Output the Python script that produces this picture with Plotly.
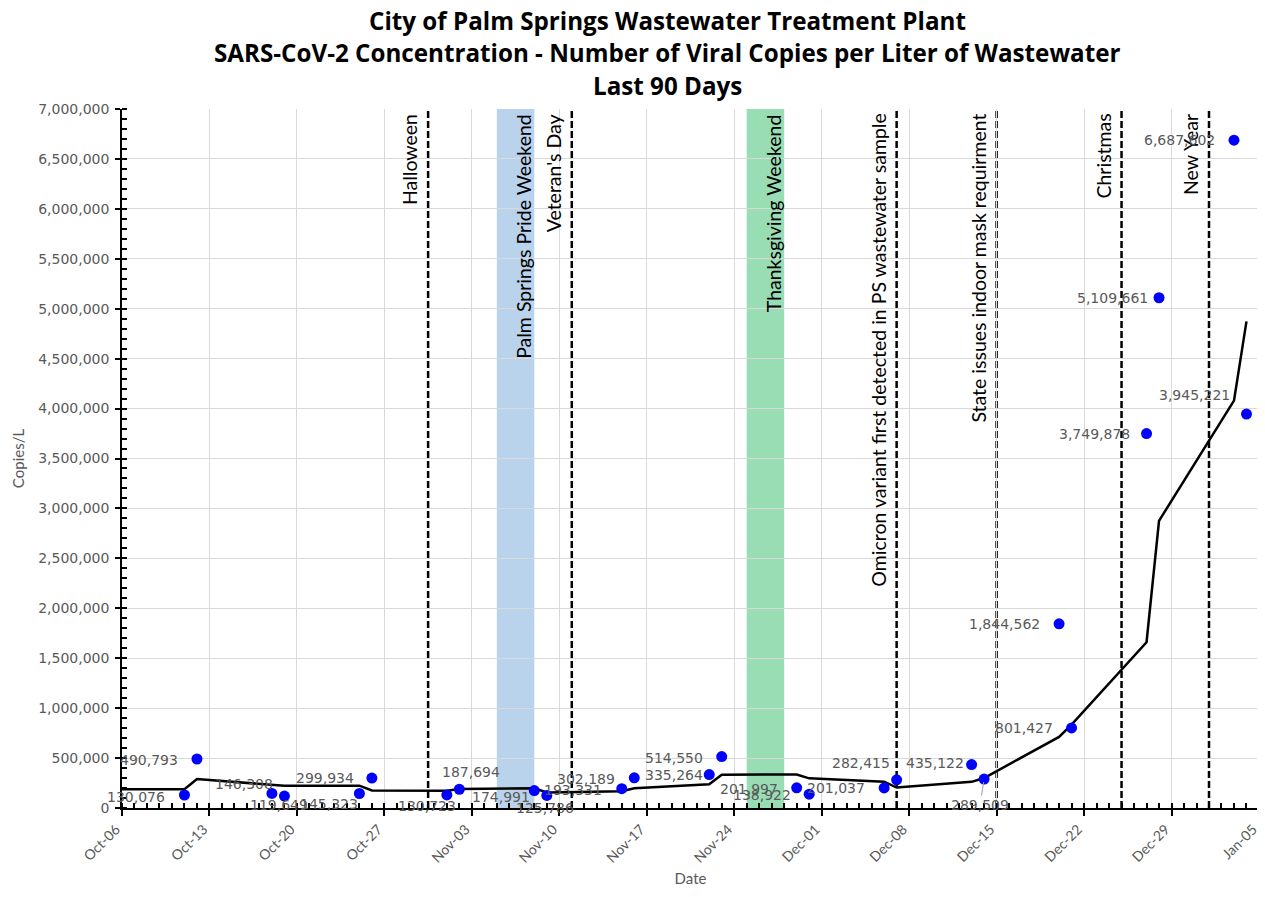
import plotly.graph_objects as go

# ---------------- data ----------------
dates = ["2021-10-11", "2021-10-12", "2021-10-18", "2021-10-19", "2021-10-25", "2021-10-26",
         "2021-11-01", "2021-11-02", "2021-11-08", "2021-11-09", "2021-11-15", "2021-11-16",
         "2021-11-22", "2021-11-23", "2021-11-29", "2021-11-30", "2021-12-06", "2021-12-07",
         "2021-12-13", "2021-12-14", "2021-12-20", "2021-12-21", "2021-12-27", "2021-12-28",
         "2022-01-03", "2022-01-04"]
copies = [130076, 490793, 146308, 119649, 145323, 299934,
          130723, 187694, 174991, 125786, 193331, 302189,
          335264, 514550, 201997, 138922, 201037, 282415,
          435122, 289509, 1844562, 801427, 3749878, 5109661,
          6687602, 3945221]

trend_dates = ["2021-10-05"] + dates
trend_values = [187000, 187000, 290000, 232000, 222000, 224000, 175000,
                172000, 190000, 198000, 155000, 168000, 197000,
                237000, 334000, 336000, 297000, 264000, 205000,
                262000, 300000, 712000, 835000, 1660000, 2876000,
                4080000, 4873000]

event_names = ["Halloween", "Veteran's Day",
               "Omicron variant first detected in PS wastewater sample",
               "State issues indoor mask requirment", "Christmas", "New Year"]
event_dates = ["2021-10-30 12:00", "2021-11-11", "2021-12-07", "2021-12-15",
               "2021-12-25", "2022-01-01"]

band_names = ["Palm Springs Pride Weekend", "Thanksgiving Weekend"]
band_starts = ["2021-11-05", "2021-11-25"]
band_ends = ["2021-11-08", "2021-11-28"]
band_colors = ["#b9d3ec", "#99ddb5"]

title_lines = ["City of Palm Springs Wastewater Treatment Plant",
               "SARS-CoV-2 Concentration - Number of Viral Copies per Liter of Wastewater",
               "Last 90 Days"]

# label placement (xanchor, xshift px, yshift px) for each point
label_pos = [("right", -17, -2), ("right", -17, -1), ("right", 3, 9), ("center", -5, -9),
             ("right", 1, -11), ("right", -16, 0), ("center", -20, -11), ("center", 12, 17),
             ("right", -2, -6), ("center", -2, -13), ("right", -18, -1), ("right", -17, -1),
             ("right", -4, 0), ("right", -17, -1), ("right", -17, -1), ("right", -16, -1),
             ("right", -17, 0), ("right", -5, 17), ("right", -6, 2), ("center", -4, -26),
             ("right", -17, 0), ("right", -17, 0), ("right", -15, 0), ("right", -9, 0),
             ("right", -17, 0), ("right", -14, 19)]

GRAY = "#595959"
fig = go.Figure()

fig.add_trace(go.Scatter(x=trend_dates, y=trend_values, mode="lines",
                         line=dict(color="black", width=2.5), hoverinfo="skip",
                         showlegend=False))
fig.add_trace(go.Scatter(x=dates, y=copies, mode="markers",
                         marker=dict(color="#0000ff", size=11), showlegend=False))

shapes = []
annotations = []

for s, e, c in zip(band_starts, band_ends, band_colors):
    shapes.append(dict(type="rect", xref="x", yref="paper", x0=s, x1=e, y0=0, y1=1,
                       fillcolor=c, line=dict(width=0), layer="between"))
for d in event_dates:
    shapes.append(dict(type="line", xref="x", yref="paper", x0=d, x1=d, y0=0, y1=1,
                       line=dict(color="black", width=2.5, dash="7px,3px"), layer="between"))

evfont = dict(family="Lato, sans-serif", size=19.5, color="black")
for n, d in zip(event_names, event_dates):
    annotations.append(dict(x=d, y=1, xref="x", yref="paper", text=n, textangle=-90,
                            showarrow=False, xanchor="right", yanchor="top",
                            xshift=-5, yshift=-3, font=evfont))
for n, s in zip(band_names, band_starts):
    annotations.append(dict(x=s, y=1, xref="x", yref="paper", text=n, textangle=-90,
                            showarrow=False, xanchor="left", yanchor="top",
                            xshift=13, yshift=-3, font=evfont))

lblfont = dict(family="DejaVu Sans, sans-serif", size=14, color=GRAY)
for d, v, (xa, xs, ys) in zip(dates, copies, label_pos):
    txt = f"{v:,}"
    if v == 289509:
        annotations.append(dict(x=d, y=v, xref="x", yref="y", text=txt, showarrow=True,
                                arrowhead=0, arrowwidth=1, arrowcolor="#a0a0a0",
                                ax=xs, ay=-ys, standoff=3, font=lblfont))
    else:
        annotations.append(dict(x=d, y=v, xref="x", yref="y", text=txt, showarrow=False,
                                xanchor=xa, yanchor="middle", xshift=xs, yshift=ys,
                                font=lblfont))

for txt, py in zip(title_lines, [1.1273, 1.0815, 1.0343]):
    annotations.append(dict(x=0.4802, y=py, xref="paper", yref="paper", text=f"<b>{txt}</b>",
                            showarrow=False, xanchor="center", yanchor="middle",
                            font=dict(family="Open Sans, sans-serif", size=24.2, color="black")))

fig.update_layout(
    width=1257, height=889,
    margin=dict(l=114, r=6, t=101, b=89, autoexpand=False),
    plot_bgcolor="white", paper_bgcolor="white",
    shapes=shapes, annotations=annotations,
    xaxis=dict(type="date", range=["2021-10-06", "2022-01-05 00:03"],
               tick0="2021-10-06", dtick=7 * 86400000, tickformat="%b-%d", tickangle=-45,
               ticklabeloverflow="allow", automargin=False, ticklabelshift=-6,
               ticks="outside", ticklen=6, tickcolor="black", tickwidth=1.5,
               showgrid=True, gridcolor="#d9d9d9", gridwidth=1,
               showline=True, linecolor="black", linewidth=1.5, zeroline=False,
               minor=dict(dtick=86400000, ticks="inside", ticklen=5, tickcolor="black",
                          showgrid=False),
               tickfont=dict(family="Lato, sans-serif", size=14, color=GRAY),
               title=dict(text="Date", font=dict(family="Lato, sans-serif", size=15, color=GRAY),
                          standoff=9)),
    yaxis=dict(range=[0, 7000000], dtick=500000, tickformat=",d",
               ticks="outside", ticklen=5, tickcolor="black", tickwidth=1.5,
               showgrid=True, gridcolor="#d9d9d9", gridwidth=1,
               showline=True, linecolor="black", linewidth=1.5, zeroline=False,
               ticklabelstandoff=3, automargin=False,
               minor=dict(dtick=100000, ticks="inside", ticklen=5, tickcolor="black",
                          showgrid=False),
               tickfont=dict(family="DejaVu Sans, sans-serif", size=14, color=GRAY),
               title=dict(text="Copies/L", font=dict(family="Lato, sans-serif", size=15, color=GRAY),
                          standoff=10)),
)

fig.write_html("out.html")
